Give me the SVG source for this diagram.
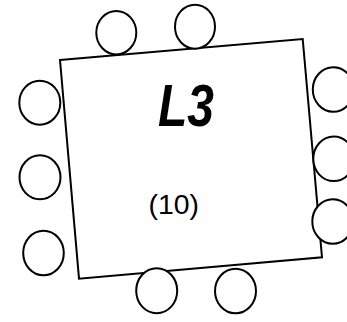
<svg xmlns="http://www.w3.org/2000/svg" width="347" height="322" viewBox="0 0 347 322">
<style>
.s{fill:#fff;stroke:#000;stroke-width:2}
.t1{font-family:"Liberation Sans",Arial,sans-serif;font-weight:bold;font-style:italic;font-size:60px}
.t2{font-family:"Liberation Sans",Arial,sans-serif;font-size:27px}
</style>
<g id="table">
<polygon class="s" points="60,60 302.7,39 322,257.3 79,278.7"/>
<text class="t1" x="186" y="126" text-anchor="middle" textLength="56" lengthAdjust="spacingAndGlyphs">L3</text>
<text class="t2" x="173.7" y="214" text-anchor="middle" textLength="50.5" lengthAdjust="spacingAndGlyphs">(10)</text>
</g>
<g id="chairs">
<ellipse id="c1" class="s" cx="116.3" cy="32.7" rx="20" ry="21.7"/>
<ellipse id="c2" class="s" cx="195" cy="26.7" rx="20" ry="22"/>
<ellipse id="c3" class="s" cx="39.8" cy="102.7" rx="20.5" ry="22"/>
<ellipse id="c4" class="s" cx="40" cy="177.3" rx="20.5" ry="22"/>
<ellipse id="c5" class="s" cx="43.5" cy="253" rx="20.3" ry="22.3"/>
<ellipse id="c6" class="s" cx="333.3" cy="89.5" rx="20.5" ry="22.3"/>
<ellipse id="c7" class="s" cx="333.8" cy="158.8" rx="20.5" ry="22.3"/>
<ellipse id="c8" class="s" cx="332.8" cy="221.5" rx="20.5" ry="22.3"/>
<ellipse id="c9" class="s" cx="156.7" cy="290.7" rx="20.5" ry="22.5"/>
<ellipse id="c10" class="s" cx="235.5" cy="291" rx="20.5" ry="22.3"/>
</g>
</svg>
